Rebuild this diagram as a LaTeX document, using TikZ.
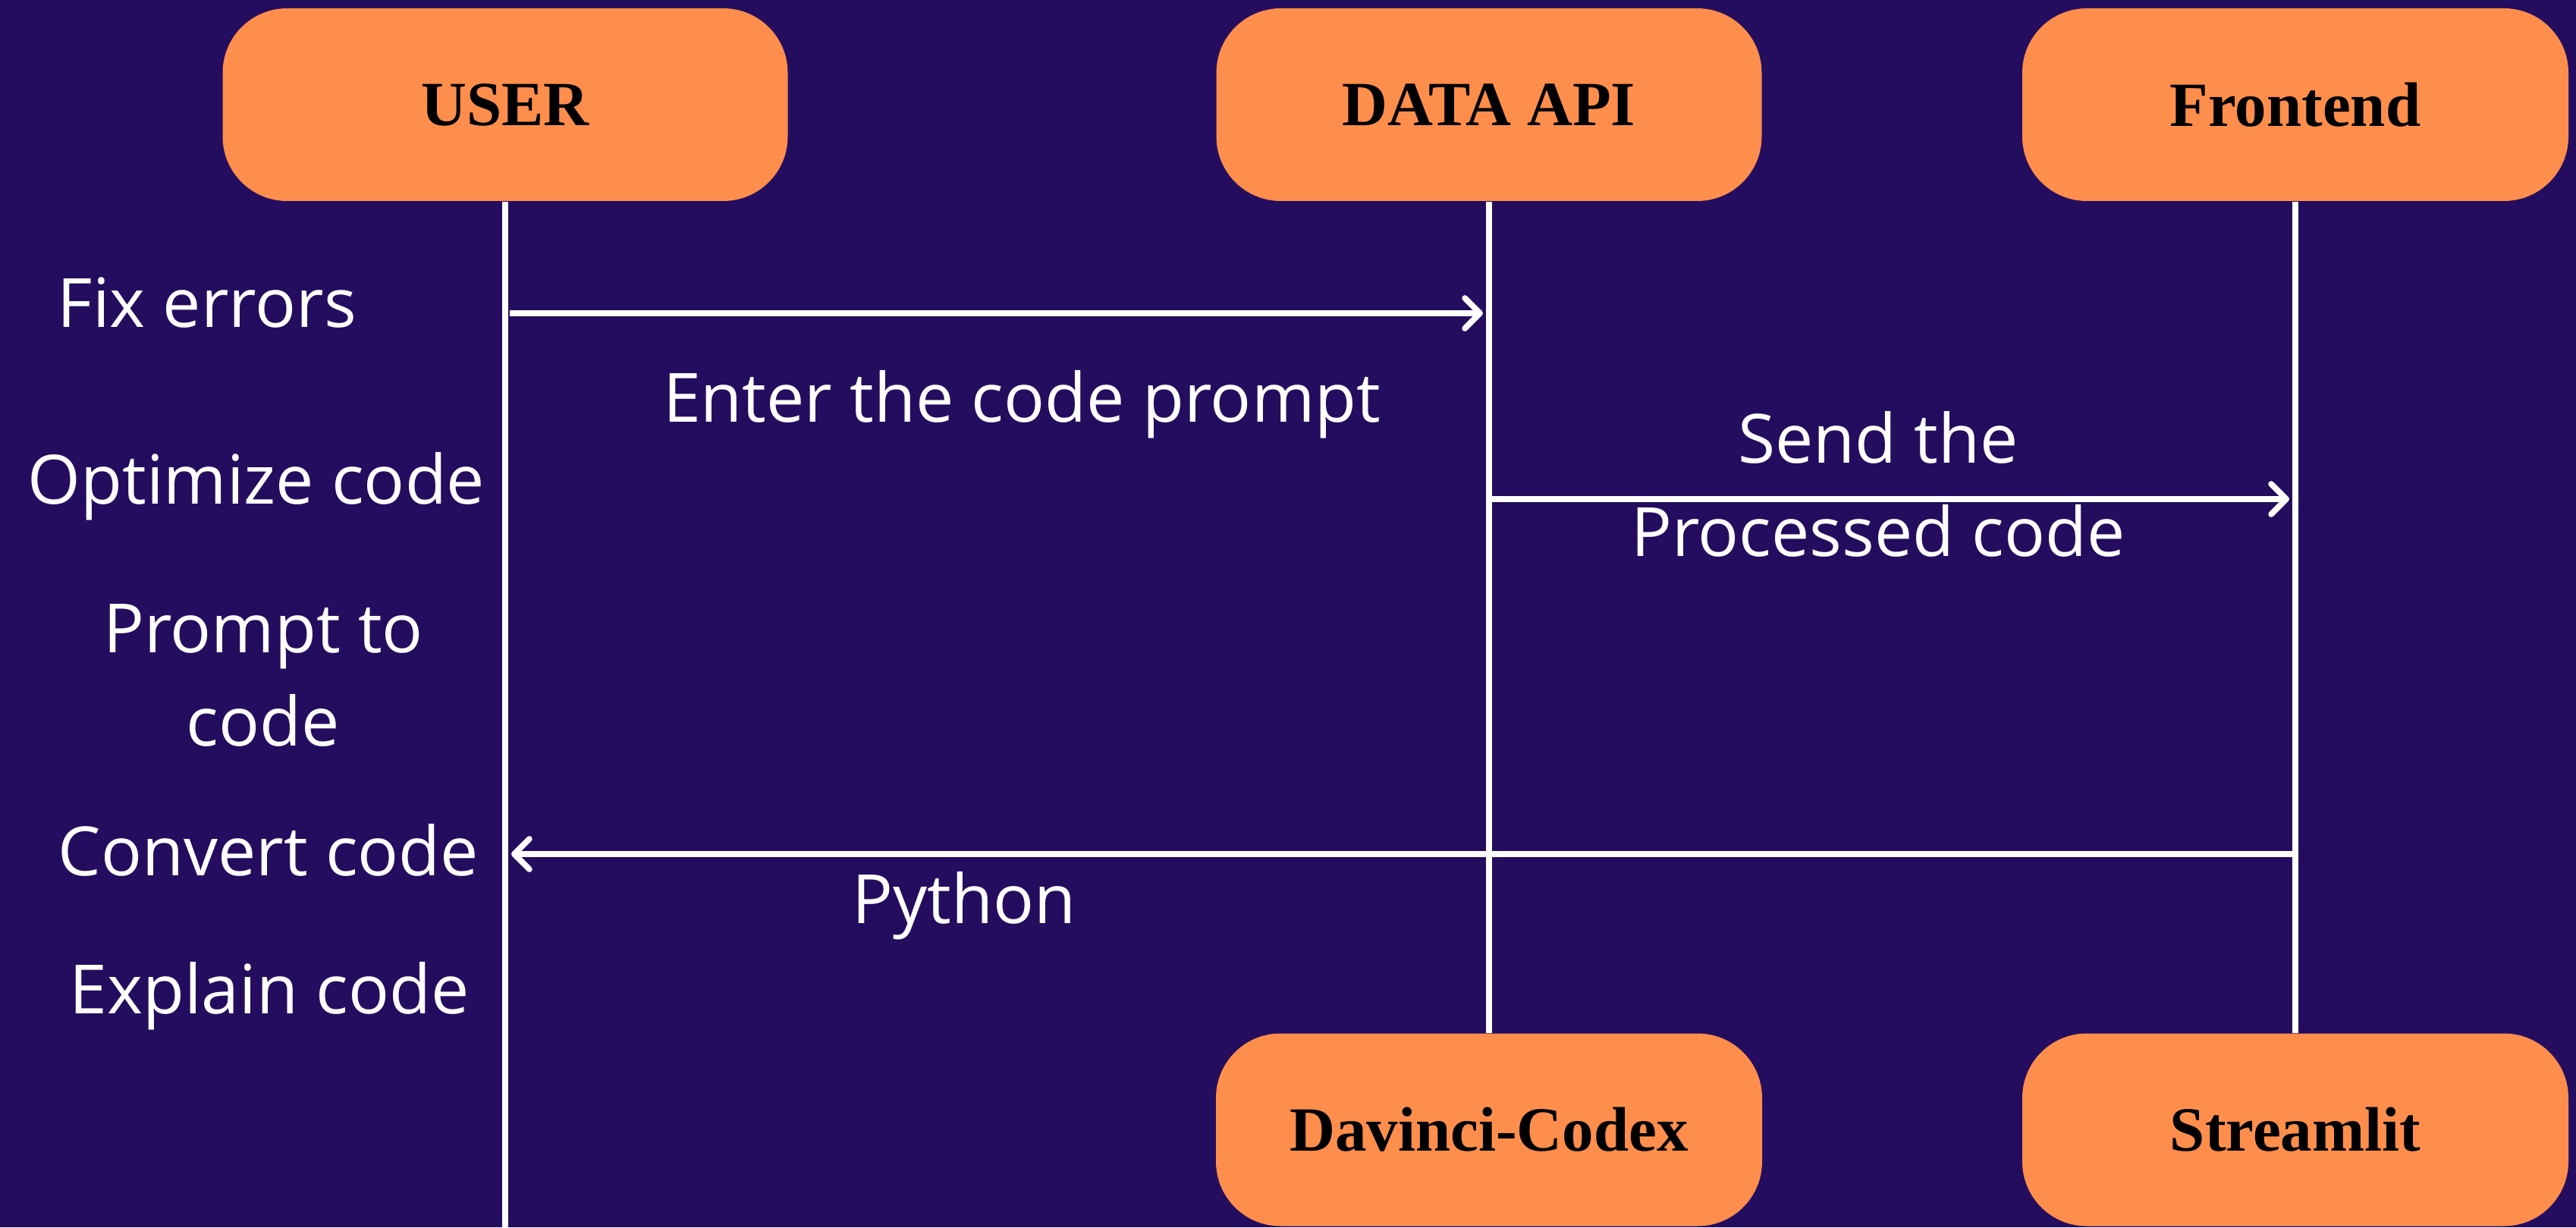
\documentclass[tikz,border=0pt]{standalone}
\usepackage{fontspec}
\setmainfont{Open Sans}
\newfontfamily\boxfont{Liberation Serif}
\usetikzlibrary{arrows.meta}

\definecolor{bgpurple}{RGB}{36,13,94}
\definecolor{boxorange}{RGB}{255,142,76}

\tikzset{
    actor/.style={fill=boxorange, rounded corners=0.85cm, minimum height=2.54cm,
        minimum width=7.2cm, text=black,
        font=\boxfont\bfseries\fontsize{23.6}{28}\selectfont},
    life/.style={draw=white, line width=2.2pt},
    msg/.style={draw=white, line width=2.2pt, shorten >=0.08cm,
        -{Straight Barb[length=0.2cm, width=0.4cm, round]}},
    lbl/.style={text=white, inner sep=0pt, align=center,
        font=\fontsize{25.5}{35}\selectfont}
}

\begin{document}
\begin{tikzpicture}

            \fill[bgpurple] (0,0) rectangle (33.96,16.18);
            \useasboundingbox (0,0) rectangle (33.96,16.18);

            \node[actor, minimum width=7.45cm] (user) at (6.66,14.80) {USER};
            \node[actor, minimum width=7.19cm] (api)  at (19.63,14.80) {DATA API};
            \node[actor] (front)     at (30.26,14.80) {Frontend};
            \node[actor] (codex)     at (19.63,1.285) {Davinci-Codex};
            \node[actor] (streamlit) at (30.26,1.285) {Streamlit};

            \coordinate (userend) at (6.66,0);
            \draw[life] (user.south) -- (userend);
            \draw[life] (api.south) -- (codex.north);
            \draw[life] (front.south) -- (streamlit.north);

            \node[lbl, anchor=base] (fix)      at (2.73,11.86) {Fix errors};
            \node[lbl, anchor=base] (optimize) at (3.38,9.54)  {Optimize code};
            \node[lbl]              (prompt)   at (3.47,7.275) {Prompt to\\code};
            \node[lbl, anchor=base] (convert)  at (3.54,4.64)  {Convert code};
            \node[lbl, anchor=base] (explain)  at (3.55,2.82)  {Explain code};

            \node[lbl, anchor=base] (enter)  at (13.47,10.61) {Enter the code prompt};
            \node[lbl]              (send)   at (24.76,9.795) {Send the\\Processed code};
            \node[lbl, anchor=base] (python) at (12.71,4.01)  {Python};

            \coordinate (m1) at (0,12.05);
            \coordinate (m2) at (0,9.60);
            \coordinate (m3) at (0,4.92);

            \draw[msg, shorten <=0.06cm] (user.south |- m1) -- (api.south |- m1);
            \draw[msg] (api.south |- m2) -- (front.south |- m2);
            \draw[msg] (front.south |- m3) -- (user.south |- m3);

        \end{tikzpicture}
\end{document}
